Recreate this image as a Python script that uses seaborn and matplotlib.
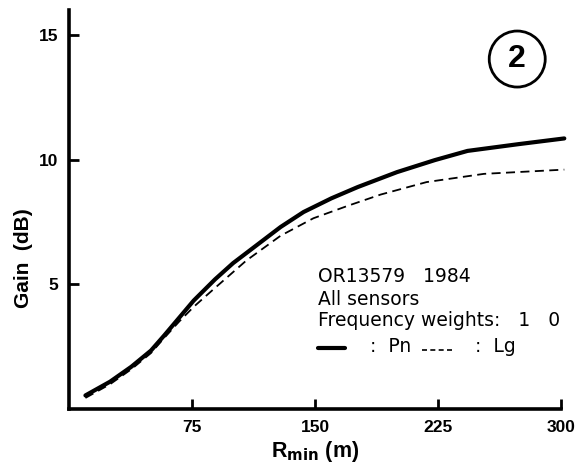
import matplotlib
matplotlib.use("Agg")
import matplotlib.pyplot as plt
import seaborn as sns
import pandas as pd
from matplotlib.patches import Ellipse

# Pn (solid) curve
r_pn = [10, 25, 38, 50, 58, 67, 76, 89, 100, 110, 129, 143, 160, 176, 190, 200, 223, 243, 274, 302]
gain_pn = [0.55, 1.1, 1.7, 2.35, 2.95, 3.65, 4.35, 5.2, 5.85, 6.35, 7.3, 7.9, 8.45, 8.9, 9.25, 9.5, 9.98, 10.35, 10.62, 10.85]

# Lg (dashed) curve
r_lg = [10, 25, 38, 50, 58, 67, 76, 88, 108, 129, 149, 170, 190, 218, 253, 302]
gain_lg = [0.45, 1.0, 1.6, 2.25, 2.85, 3.5, 4.1, 4.8, 5.95, 6.95, 7.65, 8.15, 8.6, 9.1, 9.43, 9.6]

x_ticks = [75, 150, 225, 300]
y_ticks = [5, 10, 15]

sns.set_style("white", rc={"text.color": "black", "axes.labelcolor": "black",
                           "xtick.color": "black", "ytick.color": "black",
                           "xtick.bottom": True, "ytick.left": True})
plt.rcParams['font.family'] = ['Liberation Sans', 'DejaVu Sans']

df = pd.concat([
    pd.DataFrame({"R": r_pn, "Gain": gain_pn, "phase": "Pn"}),
    pd.DataFrame({"R": r_lg, "Gain": gain_lg, "phase": "Lg"}),
])

fig = plt.figure(figsize=(5.85, 4.73), dpi=100)
ax = fig.add_axes([0.118, 0.135, 0.841, 0.844])

sns.lineplot(data=df[df.phase == "Pn"], x="R", y="Gain", color="black", lw=3.0,
             ax=ax, sort=False, estimator=None, clip_on=False)
sns.lineplot(data=df[df.phase == "Lg"], x="R", y="Gain", color="black", lw=1.3,
             ax=ax, sort=False, estimator=None, linestyle=(0, (5, 3)), clip_on=False)

ax.set_xlim(0, 300)
ax.set_ylim(0, 16)
ax.set_xticks(x_ticks)
ax.set_yticks(y_ticks)
ax.set_xticklabels([str(t) for t in x_ticks], fontweight="bold", fontsize=12.5)
ax.set_yticklabels([str(t) for t in y_ticks], fontweight="bold", fontsize=12.5)
ax.tick_params(direction="in", length=7, width=2, pad=8, bottom=True, left=True)

sns.despine(ax=ax)
for s in ["left", "bottom"]:
    ax.spines[s].set_linewidth(2.6)
    ax.spines[s].set_color("black")

ax.set_xlabel(r"R$_{\mathbf{min}}$ (m)", fontsize=15.5, fontweight="bold", labelpad=3)
ax.set_ylabel("Gain  (dB)", fontsize=15, fontweight="bold")
ax.yaxis.set_label_coords(-0.073, 0.378)

# annotation block
fs = 13.5
fam = ["DejaVu Sans"]
tx = 0.506
ax.text(tx, 0.318, "OR13579   1984", transform=ax.transAxes, fontsize=fs, family=fam, va="baseline")
ax.text(tx, 0.261, "All sensors", transform=ax.transAxes, fontsize=fs, family=fam, va="baseline")
ax.text(tx, 0.208, "Frequency weights:   1   0", transform=ax.transAxes, fontsize=fs, family=fam, va="baseline")
ax.plot([0.506, 0.561], [0.153, 0.153], transform=ax.transAxes, color="black", lw=3, clip_on=False)
ax.text(0.612, 0.143, ":  Pn", transform=ax.transAxes, fontsize=fs, family=fam, va="baseline")
ax.plot([0.717, 0.785], [0.148, 0.148], transform=ax.transAxes, color="black", lw=1.2,
        linestyle=(0, (3, 2)), clip_on=False)
ax.text(0.826, 0.143, ":  Lg", transform=ax.transAxes, fontsize=fs, family=fam, va="baseline")

# circled panel number
ax.add_patch(Ellipse((0.911, 0.877), 56 / 492, 56 / 399, transform=ax.transAxes,
                     fill=False, ec="black", lw=2, clip_on=False))
ax.text(0.911, 0.877, "2", transform=ax.transAxes, fontsize=23, fontweight="bold",
        ha="center", va="center")

fig.savefig("out.png", dpi=100)
